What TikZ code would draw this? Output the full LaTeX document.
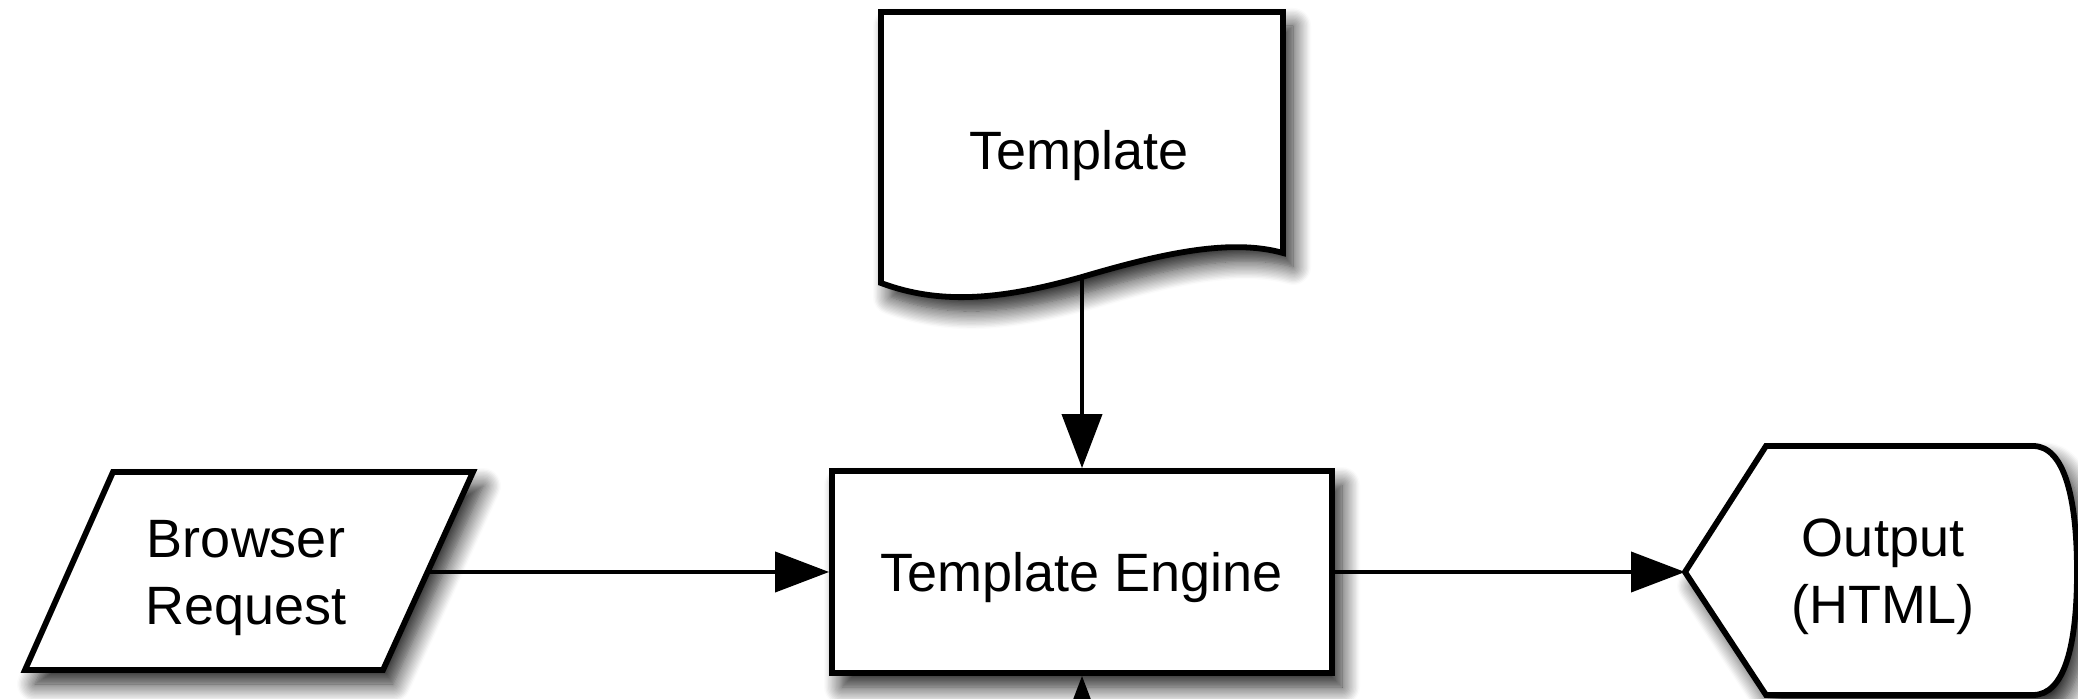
\documentclass[tikz,border=0pt]{standalone}
\usepackage{fontspec}
\setmainfont{Liberation Sans}
\usetikzlibrary{arrows.meta,shadows.blur}
\begin{document}
\begin{tikzpicture}[x=0.5pt,y=-0.5pt,
  shapeborder/.style={draw=black, line width=2.9pt, fill=white, line join=miter,
    blur shadow={shadow xshift=5pt, shadow yshift=-7pt, shadow blur radius=9pt, shadow blur steps=14, shadow opacity=90}},
  labeltext/.style={font=\fontsize{27}{33.5}\selectfont, align=center, inner sep=0pt},
  flow/.style={draw=black, line width=2pt, opacity=1, fill opacity=1,
    -{Triangle[length=27pt,width=20pt,fill=black]}}]
\useasboundingbox (0,0) rectangle (2078,699);
\clip (0,0) rectangle (2078,699);

% Template document shape
\draw[shapeborder] (881,12) -- (1283,12) -- (1283,253)
  .. controls (1230,238) and (1160,254) .. (1082,277)
  .. controls (1000,300) and (940,305) .. (881,283) -- cycle;
\node[labeltext, text height=19.3pt, text depth=0pt] (tpl) at (1079,150) {Template};
\coordinate (tplbot) at (1082,277);

% Browser request parallelogram
\draw[shapeborder] (113,472) -- (473,472) -- (383,670) -- (25,670) -- cycle;
\node[labeltext] (req) at (246,578) {Browser\\Request};
\coordinate (reqout) at (428,572);

% Template engine
\node[shapeborder, minimum width=250pt, minimum height=101pt, inner sep=0pt,
  font=\fontsize{27}{33.5}\selectfont, text height=19.3pt, text depth=0pt] (engine) at (1082,572) {Template Engine};

% Output display shape
\draw[shapeborder] (1685,572) -- (1766,446) -- (2033,446)
  .. controls (2065,446) and (2077,500) .. (2077,572)
  .. controls (2077,644) and (2065,695) .. (2033,695) -- (1766,695) -- cycle;
\node[labeltext] (out) at (1883,577) {Output\\(HTML)};
\coordinate (outtip) at (1685,572);

\coordinate (below) at (1082,780);

% connectors
\draw[flow] (tplbot) -- (engine.north);
\draw[flow] (reqout) -- (engine.west);
\draw[flow] (engine.east) -- (outtip);
\draw[flow] (below) -- (engine.south);
\end{tikzpicture}
\end{document}
